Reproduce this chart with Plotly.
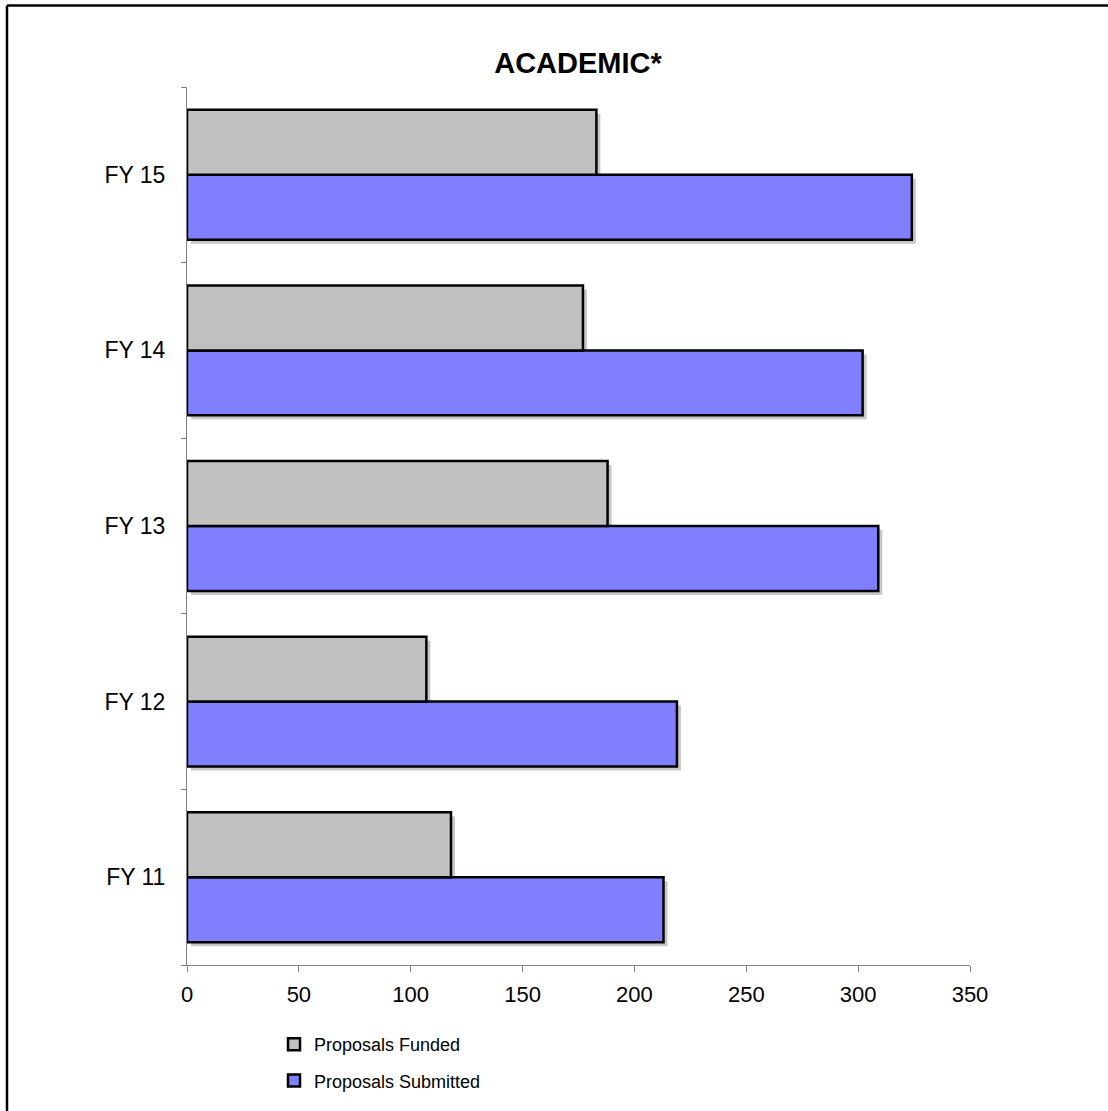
import plotly.graph_objects as go

categories = ["FY 11", "FY 12", "FY 13", "FY 14", "FY 15"]
funded = [118, 107, 188, 177, 183]
submitted = [213, 219, 309, 302, 324]
x_ticks = [0, 50, 100, 150, 200, 250, 300, 350]

FONT = "Arial, 'Liberation Sans', sans-serif"
W, H = 1108, 1111
L, R, T, B = 187, 138, 87, 146   # main plot area in pixels
dx, dy = 4, 4                     # shadow offset
mr, mb = R - dx, B - dy
pw, ph = W - L - mr, H - T - mb


def px_x(p):
    return (p - L) / pw


def px_y(p):
    return (H - mb - p) / ph


fig = go.Figure()

# soft drop shadows (subplot xy, drawn first / underneath)
for vals in (submitted, funded):
    fig.add_trace(go.Bar(
        y=categories, x=vals, orientation="h", xaxis="x", yaxis="y",
        marker=dict(color="rgba(0,0,0,0.22)", line=dict(width=0)),
        showlegend=False, hoverinfo="skip",
    ))

# real bars (subplot x2y2, drawn on top)
fig.add_trace(go.Bar(
    y=categories, x=submitted, orientation="h", name="Proposals Submitted",
    xaxis="x2", yaxis="y2",
    marker=dict(color="#8080FF", line=dict(color="#000000", width=2.5)),
    legendgroup="s", legendrank=2,
))
fig.add_trace(go.Bar(
    y=categories, x=funded, orientation="h", name="Proposals Funded",
    xaxis="x2", yaxis="y2",
    marker=dict(color="#C0C0C0", line=dict(color="#000000", width=2.5)),
    legendgroup="f", legendrank=1,
))

main_xd = [0, (pw - dx) / pw]
main_yd = [dy / ph, 1]

fig.update_layout(
    width=W, height=H,
    margin=dict(l=L, r=mr, t=T, b=mb, pad=0),
    paper_bgcolor="white", plot_bgcolor="rgba(0,0,0,0)",
    font=dict(family=FONT, color="black", size=18),
    barmode="group", bargap=0.26, bargroupgap=0,
    title=dict(text="<b>ACADEMIC*</b>", x=578 / W, xanchor="center", xref="container",
               y=1 - 63 / H, yanchor="middle", yref="container",
               font=dict(size=29, family=FONT)),
    xaxis=dict(range=[0, 350], domain=[dx / pw, 1], visible=False,
               anchor="y", fixedrange=True),
    yaxis=dict(categoryorder="array", categoryarray=categories,
               domain=[0, 1 - dy / ph], visible=False, anchor="x",
               fixedrange=True),
    xaxis2=dict(range=[0, 350], tickvals=x_ticks, showgrid=False, zeroline=False,
                showline=True, linecolor="#808080", linewidth=1,
                ticks="outside", ticklen=6, tickcolor="#808080",
                tickfont=dict(size=22), ticklabelstandoff=4,
                domain=main_xd, anchor="y2", fixedrange=True),
    yaxis2=dict(categoryorder="array", categoryarray=categories,
                showgrid=False, zeroline=False, showline=True, linecolor="#808080",
                linewidth=1, ticks="outside", ticklen=5, tickcolor="#808080",
                tickson="boundaries", tickfont=dict(size=23), ticklabelstandoff=16,
                domain=main_yd, anchor="x2", fixedrange=True),
    legend=dict(x=px_x(274), xanchor="left", y=px_y(1026), yanchor="top",
                traceorder="grouped", tracegroupgap=10,
                font=dict(size=18, family=FONT), bgcolor="rgba(0,0,0,0)",
                itemwidth=30),
    shapes=[
        dict(type="line", xref="paper", yref="paper",
             x0=px_x(7), x1=px_x(W + 5), y0=px_y(5.5), y1=px_y(5.5),
             line=dict(color="black", width=2.5)),
        dict(type="line", xref="paper", yref="paper",
             x0=px_x(7), x1=px_x(7), y0=px_y(5.5), y1=px_y(H + 20),
             line=dict(color="black", width=2.5)),
    ],
)

fig.write_html("out.html", config={"displayModeBar": False},
               post_script="document.body.style.margin='0';")
